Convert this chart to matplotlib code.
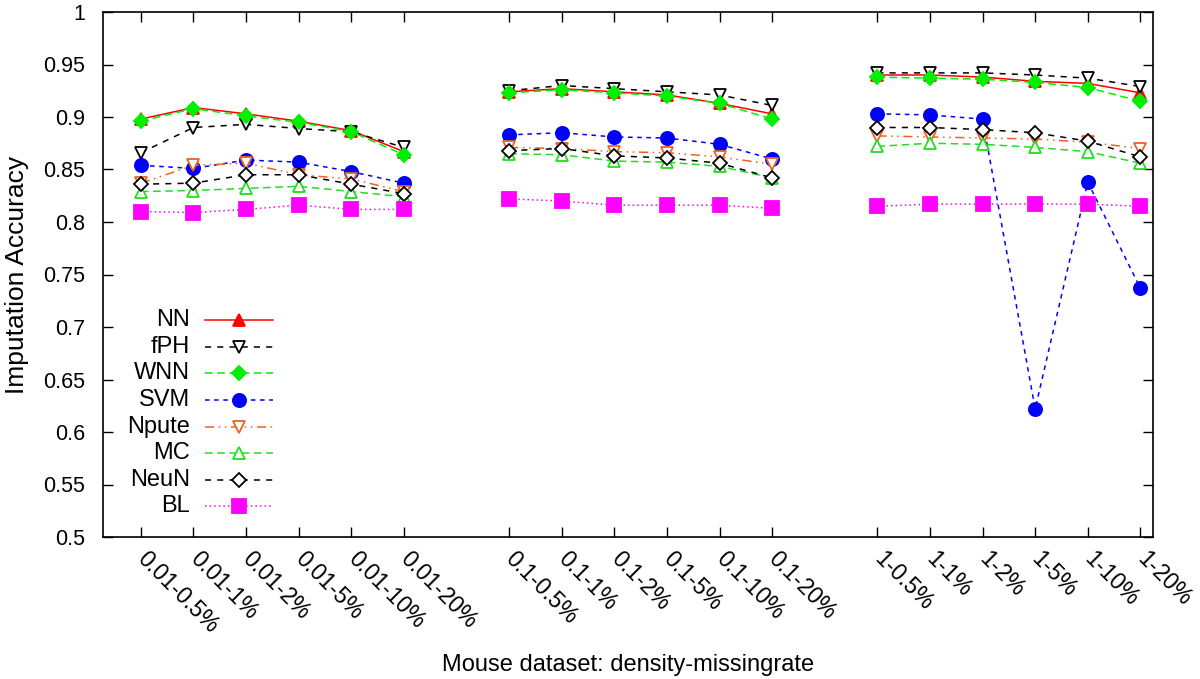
import matplotlib
matplotlib.use("Agg")
import matplotlib.pyplot as plt
from matplotlib.lines import Line2D

plt.rcParams['font.family'] = ['Liberation Sans', 'DejaVu Sans']

tick_labels = ["0.01-0.5%", "0.01-1%", "0.01-2%", "0.01-5%", "0.01-10%", "0.01-20%",
               "0.1-0.5%", "0.1-1%", "0.1-2%", "0.1-5%", "0.1-10%", "0.1-20%",
               "1-0.5%", "1-1%", "1-2%", "1-5%", "1-10%", "1-20%"]

nn    = [0.898, 0.909, 0.903, 0.896, 0.887, 0.867,
         0.924, 0.927, 0.924, 0.921, 0.913, 0.903,
         0.940, 0.940, 0.938, 0.934, 0.932, 0.923]
fph   = [0.866, 0.890, 0.893, 0.889, 0.886, 0.871,
         0.925, 0.930, 0.927, 0.924, 0.921, 0.911,
         0.942, 0.942, 0.942, 0.940, 0.937, 0.929]
wnn   = [0.896, 0.908, 0.901, 0.895, 0.886, 0.864,
         0.923, 0.926, 0.923, 0.920, 0.913, 0.898,
         0.938, 0.937, 0.936, 0.933, 0.928, 0.915]
svm   = [0.854, 0.851, 0.859, 0.857, 0.848, 0.837,
         0.883, 0.885, 0.881, 0.880, 0.874, 0.860,
         0.903, 0.902, 0.898, 0.622, 0.838, 0.737]
npute = [0.837, 0.854, 0.856, 0.845, 0.841, 0.829,
         0.871, 0.870, 0.867, 0.866, 0.862, 0.855,
         0.882, 0.881, 0.880, 0.879, 0.876, 0.870]
mc    = [0.829, 0.830, 0.832, 0.834, 0.829, 0.824,
         0.865, 0.864, 0.858, 0.857, 0.853, 0.842,
         0.872, 0.875, 0.874, 0.871, 0.867, 0.856]
neun  = [0.836, 0.837, 0.845, 0.845, 0.836, 0.827,
         0.868, 0.870, 0.863, 0.861, 0.856, 0.842,
         0.890, 0.890, 0.888, 0.885, 0.877, 0.862]
bl    = [0.810, 0.809, 0.812, 0.816, 0.812, 0.812,
         0.822, 0.820, 0.816, 0.816, 0.816, 0.813,
         0.815, 0.817, 0.817, 0.817, 0.817, 0.815]

groups = [0, 1, 2]
per_group = 6
gap = 1

xs = []
for g in groups:
    for i in range(per_group):
        xs.append(g * (per_group + gap) + i)

series = [
    ("NN", nn, dict(color="#ff0000", ls="-", marker="^", mfc="#ff0000", mec="#ff0000", ms=8)),
    ("fPH", fph, dict(color="#000000", ls=(0, (4, 4)), marker="v", mfc="white", mec="#000000", ms=9)),
    ("WNN", wnn, dict(color="#00ee00", ls=(0, (5, 3)), marker="D", mfc="#00ee00", mec="#00ee00", ms=7)),
    ("SVM", svm, dict(color="#0000ff", ls=(0, (3, 3)), marker="o", mfc="#0000ff", mec="#0000ff", ms=9.5)),
    ("Npute", npute, dict(color="#f06020", ls=(0, (6, 3, 1, 3, 1, 3)), marker="v", mfc="white", mec="#f06020", ms=9)),
    ("MC", mc, dict(color="#22dd22", ls=(0, (5, 3)), marker="^", mfc="white", mec="#22dd22", ms=9)),
    ("NeuN", neun, dict(color="#000000", ls=(0, (4, 4)), marker="D", mfc="white", mec="#000000", ms=7)),
    ("BL", bl, dict(color="#ff00ff", ls=(0, (1, 2)), marker="s", mfc="#ff00ff", mec="#ff00ff", ms=9.5)),
]

fig = plt.figure(figsize=(12, 6.79), dpi=100)
ax = fig.add_axes([103/1200, 1 - 537/679, 1050/1200, 525/679])

for name, vals, st in series:
    for g in groups:
        sl = slice(g * per_group, (g + 1) * per_group)
        ax.plot(xs[sl], vals[sl], color=st["color"], ls=st["ls"], lw=1.1,
                marker=st["marker"], mfc=st["mfc"], mec=st["mec"], ms=st["ms"], mew=1.3)

ax.set_xlim(-0.72, 19.24)
ax.set_ylim(0.5, 1.0)
ax.set_yticks([0.5 + 0.05 * i for i in range(11)])
ax.set_yticklabels(["0.5", "0.55", "0.6", "0.65", "0.7", "0.75", "0.8", "0.85", "0.9", "0.95", "1"],
                   fontsize=15.5)
ax.set_xticks(xs)
ax.set_xticklabels(tick_labels, rotation=-45, ha="left", va="center", rotation_mode="anchor",
                   fontsize=16.5)
ax.tick_params(direction="in", length=7, width=1, top=True, right=True,
               labeltop=False, labelright=False, color="black")
ax.tick_params(axis="x", pad=13)
ax.tick_params(axis="y", pad=13)
for sp in ax.spines.values():
    sp.set_linewidth(1.2)

ax.set_ylabel("Imputation Accuracy", fontsize=19, labelpad=10)
ax.set_xlabel("Mouse dataset: density-missingrate", fontsize=17, labelpad=12)

# manual legend (labels right-aligned, sample to the right)
y0 = 0.413
dy = 0.0507
for k, (name, vals, st) in enumerate(series):
    yy = y0 - k * dy
    ax.text(0.083, yy, name, transform=ax.transAxes, ha="right", va="center", fontsize=17)
    ax.add_line(Line2D([0.097, 0.162], [yy, yy], transform=ax.transAxes,
                       color=st["color"], ls=st["ls"], lw=1.1))
    ax.add_line(Line2D([0.1295], [yy], transform=ax.transAxes, ls="none",
                       marker=st["marker"], mfc=st["mfc"], mec=st["mec"], ms=st["ms"], mew=1.3))

fig.savefig("out.png", dpi=100)
